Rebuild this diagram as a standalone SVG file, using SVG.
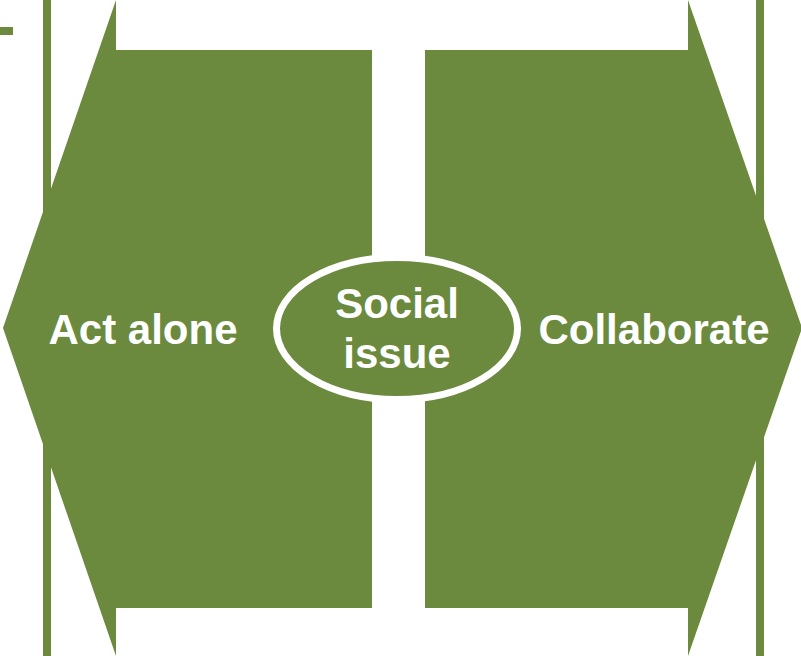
<svg xmlns="http://www.w3.org/2000/svg" width="801" height="656" viewBox="0 0 801 656">
<style>
.g{fill:#6B8A3E}
.t{fill:#fff;font-family:"Liberation Sans",Arial,sans-serif;font-weight:bold;font-size:42px;text-anchor:middle}
</style>
<rect width="801" height="656" fill="#fff"/>
<g id="decor">
<rect class="g" x="0" y="27" width="13" height="8"/>
<rect class="g" x="43" y="0" width="8" height="656"/>
<rect class="g" x="756" y="0" width="8" height="656"/>
</g>
<g id="act-alone">
<polygon class="g" points="116,0 116,50 372,50 372,608 116,608 116,656 3,328"/>
<text class="t" x="143" y="344">Act alone</text>
</g>
<g id="collaborate">
<polygon class="g" points="688,0 688,50 425,50 425,608 688,608 688,656 802,328"/>
<text class="t" x="654" y="344">Collaborate</text>
</g>
<g id="social-issue">
<ellipse cx="397" cy="328.5" rx="120.5" ry="71" class="g" stroke="#fff" stroke-width="7"/>
<text class="t" x="397" y="318">Social</text>
<text class="t" x="397" y="368">issue</text>
</g>
<g id="connectors"></g>
</svg>
